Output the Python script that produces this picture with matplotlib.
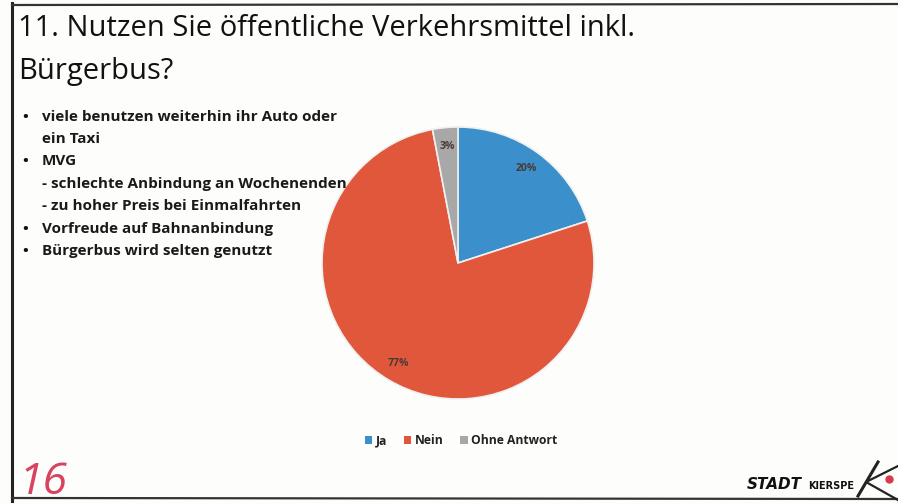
import matplotlib.pyplot as plt
from matplotlib.lines import Line2D
from matplotlib.patches import Patch

# Survey answers, question 11
categories = ['Ja', 'Nein', 'Ohne Antwort']
shares = [20, 77, 3]
colors = ['#3b8fcb', '#e0573b', '#a8a8a8']

title_lines = ['11. Nutzen Sie öffentliche Verkehrsmittel inkl.', 'Bürgerbus?']

# (bullet?, text) for the comment list on the left
notes = [
    (True, 'viele benutzen weiterhin ihr Auto oder'),
    (False, 'ein Taxi'),
    (True, 'MVG'),
    (False, '- schlechte Anbindung an Wochenenden'),
    (False, '- zu hoher Preis bei Einmalfahrten'),
    (True, 'Vorfreude auf Bahnanbindung'),
    (True, 'Bürgerbus wird selten genutzt'),
]
note_baselines = [121, 143, 165, 188, 210, 233, 255]

W, H = 898, 504
plt.rcParams['font.family'] = ['Open Sans', 'DejaVu Sans']

fig = plt.figure(figsize=(W / 100, H / 100), dpi=100)
fig.patch.set_facecolor('#fdfdfc')


def fx(x):
    return x / W


def fy(y):
    return 1 - y / H


# slide frame
fig.add_artist(Line2D([fx(12), fx(12)], [fy(3), fy(501)], color='#222222', lw=2.2))
fig.add_artist(Line2D([fx(12), fx(898)], [fy(5), fy(4)], color='#333333', lw=1.6))
fig.add_artist(Line2D([fx(12), fx(898)], [fy(498), fy(499)], color='#333333', lw=1.6))

# title
fig.text(fx(18), fy(36), title_lines[0], fontsize=21, color='#111111', va='baseline')
fig.text(fx(18), fy(79), title_lines[1], fontsize=21, color='#111111', va='baseline')

# comments
for (bullet, txt), y in zip(notes, note_baselines):
    if bullet:
        fig.text(fx(22), fy(y), '•', fontsize=11, fontweight='bold', color='#111111',
                 va='baseline')
    fig.text(fx(42), fy(y), txt, fontsize=11, fontweight='bold', color='#1a1a1a',
             va='baseline')

# pie
ax = fig.add_axes([fx(322), fy(399), 272 / W, 272 / H])
wedges, _, autotexts = ax.pie(
    shares, colors=colors, startangle=90, counterclock=False,
    autopct=lambda p: '%d%%' % round(p), pctdistance=0.86,
    wedgeprops=dict(edgecolor='#f0f0f0', linewidth=1.2),
)
for t in autotexts:
    t.set_fontsize(7.5)
    t.set_fontweight('bold')
    t.set_color('#4a3a33')
ax.set_xlim(-1, 1)
ax.set_ylim(-1, 1)

handles = [Patch(facecolor=c, edgecolor='none') for c in colors]
leg = fig.legend(handles, categories, loc='center', bbox_to_anchor=(fx(461), fy(441)),
                 ncol=3, frameon=False, handlelength=0.6, handleheight=0.6,
                 handletextpad=0.3, columnspacing=1.4,
                 prop=dict(size=8.7, weight='bold'))
for t in leg.get_texts():
    t.set_color('#222222')

# page number, written by hand
fig.text(fx(19), fy(494), '16', fontsize=32, style='italic', color='#d8435f', va='baseline')

# town logo
fig.text(fx(747), fy(489), 'STADT', fontsize=11, fontweight='bold', style='italic',
         family='DejaVu Sans', color='#111111', va='baseline')
fig.text(fx(808), fy(489), 'KIERSPE', fontsize=7, fontweight='bold',
         family='DejaVu Sans', color='#111111', va='baseline')
fig.add_artist(Line2D([fx(858), fx(878)], [fy(496), fy(462)], color='#222222', lw=2.2))
fig.add_artist(Line2D([fx(898), fx(866), fx(898)], [fy(466), fy(482), fy(500)],
                      color='#222222', lw=1.6))
fig.add_artist(Line2D([fx(889)], [fy(479)], marker='o', ms=5, color='#d83a4a', lw=0))

fig.savefig('out.png', dpi=100, facecolor=fig.get_facecolor())
